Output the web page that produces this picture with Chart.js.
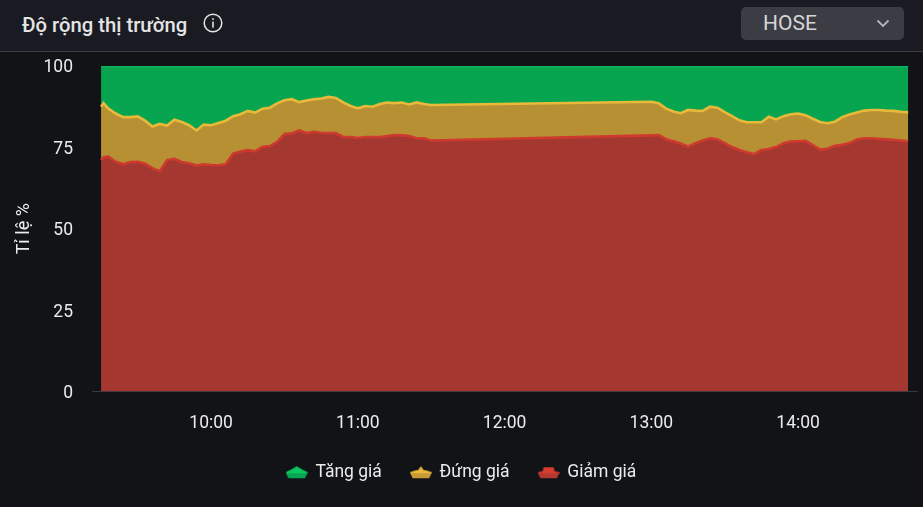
<!DOCTYPE html>
<html lang="vi">
<head>
<meta charset="utf-8">
<title>Độ rộng thị trường</title>
<script src="https://cdn.jsdelivr.net/npm/chart.js@4"></script>
<style>
  html, body { margin: 0; padding: 0; background: #111317; }
  #panel { position: relative; width: 923px; height: 507px; overflow: hidden; font-family: Roboto, sans-serif; }
  #header { position: absolute; left: 0; top: 0; width: 923px; height: 51px; background: #1a1b22; border-bottom: 1px solid #3c3c40; }
  #title { position: absolute; left: 22px; top: 13px; font-size: 20.25px; font-weight: 500; line-height: 24px; color: #e4e4e4; white-space: nowrap; }
  #info { position: absolute; left: 203px; top: 13px; }
  #market { position: absolute; left: 741px; top: 7px; width: 163px; height: 33px; background: #3c3c45; border-radius: 5px; }
  #market span { position: absolute; left: 22px; top: 5px; font-size: 21px; line-height: 23px; color: #d6d6d8; }
  #market svg { position: absolute; left: 135px; top: 12px; }
  canvas { position: absolute; left: 0; top: 0; }
</style>
</head>
<body>
<div id="panel">
  <canvas id="breadthChart" width="923" height="507"></canvas>
  <div id="header">
    <div id="title">Độ rộng thị trường</div>
    <svg id="info" width="20" height="20" viewBox="0 0 20 20" fill="none">
      <circle cx="10" cy="10" r="8.8" stroke="#e4e4e4" stroke-width="1.5"/>
      <rect x="9.2" y="8.6" width="1.6" height="6" fill="#e4e4e4"/>
      <rect x="9.2" y="5.2" width="1.6" height="1.7" fill="#e4e4e4"/>
    </svg>
    <div id="market">
      <span>HOSE</span>
      <svg width="14" height="9" viewBox="0 0 14 9" fill="none">
        <path d="M1.5 1.5 L7 7 L12.5 1.5" stroke="#b4b4b8" stroke-width="1.8"/>
      </svg>
    </div>
  </div>
</div>
<script>
// minutes since midnight, HOSE session with the lunch break left empty
const times = [
  555, 556, 558, 561, 564, 567, 570, 573, 576, 579, 582, 585, 588, 591, 594, 597,
  600, 603, 606, 609, 612, 615, 618, 621, 624, 627, 630, 633, 636, 639, 642, 645,
  648, 651, 654, 657, 660, 663, 666, 669, 672, 675, 678, 681, 684, 687, 690,
  780, 783, 786, 789, 792, 795, 798, 801, 804, 807, 810, 813, 816, 819, 822, 825,
  828, 831, 834, 837, 840, 843, 846, 849, 852, 855, 858, 861, 864, 867, 870, 873,
  876, 879, 882, 885
];

// share of falling stocks, %
const giamGia = [
  71.1, 72.0, 72.2, 70.6, 69.8, 70.5, 70.6, 70.0, 68.6, 67.7, 71.1, 71.5, 70.5, 70.1, 69.4, 69.8,
  69.6, 69.5, 69.8, 73.1, 73.7, 74.2, 73.8, 75.2, 75.4, 76.7, 79.1, 79.3, 80.2, 79.4, 79.8, 79.5,
  79.4, 79.4, 78.2, 78.2, 77.9, 78.2, 78.2, 78.2, 78.5, 78.8, 78.7, 78.5, 77.8, 77.8, 77.1,
  78.7, 78.8, 77.5, 76.9, 76.2, 75.2, 76.3, 77.1, 77.8, 77.5, 76.3, 75.1, 74.2, 73.5, 72.9, 74.2,
  74.5, 75.1, 76.3, 76.8, 76.9, 77.0, 75.7, 74.3, 74.6, 75.5, 75.8, 76.3, 77.4, 77.8, 77.8, 77.6,
  77.5, 77.3, 77.1, 76.9
];

// falling + unchanged, the upper edge of the yellow band, %
const giamVaDung = [
  87.5, 88.6, 86.9, 85.4, 84.3, 84.3, 84.5, 83.2, 81.4, 82.2, 81.7, 83.5, 82.8, 81.8, 80.2, 82.0,
  81.8, 82.5, 83.2, 84.6, 85.2, 86.2, 85.7, 86.9, 87.2, 88.5, 89.5, 89.8, 88.9, 89.4, 89.8, 90.0,
  90.5, 90.2, 88.8, 87.7, 87.0, 87.7, 87.5, 88.3, 88.8, 88.6, 88.8, 88.2, 88.8, 88.3, 88.0,
  89.0, 88.6, 86.9, 86.0, 85.5, 86.5, 86.3, 86.2, 87.5, 87.2, 85.8, 84.6, 83.3, 82.7, 82.7, 82.7,
  84.4, 83.6, 84.6, 85.2, 85.4, 84.9, 83.8, 82.8, 82.4, 82.9, 84.3, 85.1, 85.7, 86.3, 86.5, 86.5,
  86.3, 86.2, 85.9, 85.8
];

const dungGia = giamVaDung.map((v, i) => v - giamGia[i]);
const tangGia = giamVaDung.map(v => 100 - v);

const hourTicks = [600, 660, 720, 780, 840];
const percentTicks = [0, 25, 50, 75, 100];

function toPoints(values) {
  return values.map((v, i) => ({ x: times[i], y: v }));
}

// legend swatch: a small area sample, lighter line on top of the fill
function swatch(path, lineColor, fillColor) {
  const c = document.createElement("canvas");
  c.width = 22;
  c.height = 14;
  const ctx = c.getContext("2d");
  ctx.beginPath();
  path.forEach((p, i) => (i ? ctx.lineTo(p[0], p[1]) : ctx.moveTo(p[0], p[1])));
  ctx.closePath();
  ctx.fillStyle = lineColor;
  ctx.fill();
  ctx.save();
  ctx.clip();
  ctx.fillStyle = fillColor;
  ctx.fillRect(0, 8, 22, 6);
  ctx.restore();
  return c;
}

const swatchUp = swatch([[0, 7], [6, 4], [11, 1], [16, 4], [22, 7], [19, 13], [3, 13]], "#0cc862", "#0aa653");
const swatchFlat = swatch([[0, 7], [6, 5], [8, 5], [11, 1], [14, 5], [16, 5], [22, 7], [19, 13], [3, 13]], "#eab83a", "#c79a35");
const swatchDown = swatch([[0, 7], [5, 6], [6, 2], [16, 2], [17, 6], [22, 7], [19, 13], [3, 13]], "#d83b30", "#b23a30");

new Chart(document.getElementById("breadthChart"), {
  type: "line",
  data: {
    datasets: [
      {
        label: "Giảm giá",
        data: toPoints(giamGia),
        borderColor: "#cf3a2e",
        backgroundColor: "#a43830",
        fill: "origin",
        pointStyle: swatchDown
      },
      {
        label: "Đứng giá",
        data: toPoints(dungGia),
        borderColor: "#e9b93a",
        backgroundColor: "#b79033",
        fill: "-1",
        pointStyle: swatchFlat
      },
      {
        label: "Tăng giá",
        data: toPoints(tangGia),
        borderColor: "#10b45c",
        backgroundColor: "#07a550",
        fill: "-1",
        pointStyle: swatchUp
      }
    ]
  },
  options: {
    responsive: false,
    animation: false,
    events: [],
    elements: {
      point: { radius: 0 },
      line: { borderWidth: 2.6, tension: 0 }
    },
    layout: { padding: { top: 66, left: 6, right: 6, bottom: 16 } },
    plugins: {
      tooltip: { enabled: false },
      legend: {
        position: "bottom",
        labels: {
          usePointStyle: true,
          pointStyleWidth: 20,
          padding: 29,
          color: "#ebebeb",
          font: { family: "Roboto", size: 17.5 },
          sort: (a, b) => b.datasetIndex - a.datasetIndex,
          generateLabels(chart) {
            return Chart.defaults.plugins.legend.labels.generateLabels(chart).map(item => {
              item.pointStyle = chart.data.datasets[item.datasetIndex].pointStyle;
              return item;
            });
          }
        }
      }
    },
    scales: {
      x: {
        type: "linear",
        min: 551.3,
        max: 888.6,
        afterBuildTicks(scale) {
          scale.ticks = hourTicks.map(v => ({ value: v }));
        },
        afterFit(scale) {
          scale.height = 43;
        },
        grid: { display: false, drawOnChartArea: false, drawTicks: true, tickLength: 13, tickColor: "#45464a" },
        border: { display: true, color: "#38393d", width: 1 },
        ticks: {
          color: "#ebebeb",
          padding: 9,
          maxRotation: 0,
          autoSkip: false,
          font: { family: "Roboto", size: 17.5 },
          callback(v) {
            const h = Math.floor(v / 60);
            const m = v % 60;
            return h + ":" + String(m).padStart(2, "0");
          }
        }
      },
      y: {
        stacked: true,
        min: 0,
        max: 100,
        afterBuildTicks(scale) {
          scale.ticks = percentTicks.map(v => ({ value: v }));
        },
        afterFit(scale) {
          scale.width = 86;
        },
        grid: { display: false, drawTicks: false },
        border: { display: false },
        ticks: {
          color: "#ebebeb",
          padding: 19,
          labelOffset: 2,
          font: { family: "Roboto", size: 17.5 }
        },
        title: {
          display: true,
          text: "Tỉ lệ %",
          color: "#ebebeb",
          font: { family: "Roboto", size: 18 },
          padding: { top: 8, bottom: 0 }
        }
      }
    }
  }
});
</script>
</body>
</html>
